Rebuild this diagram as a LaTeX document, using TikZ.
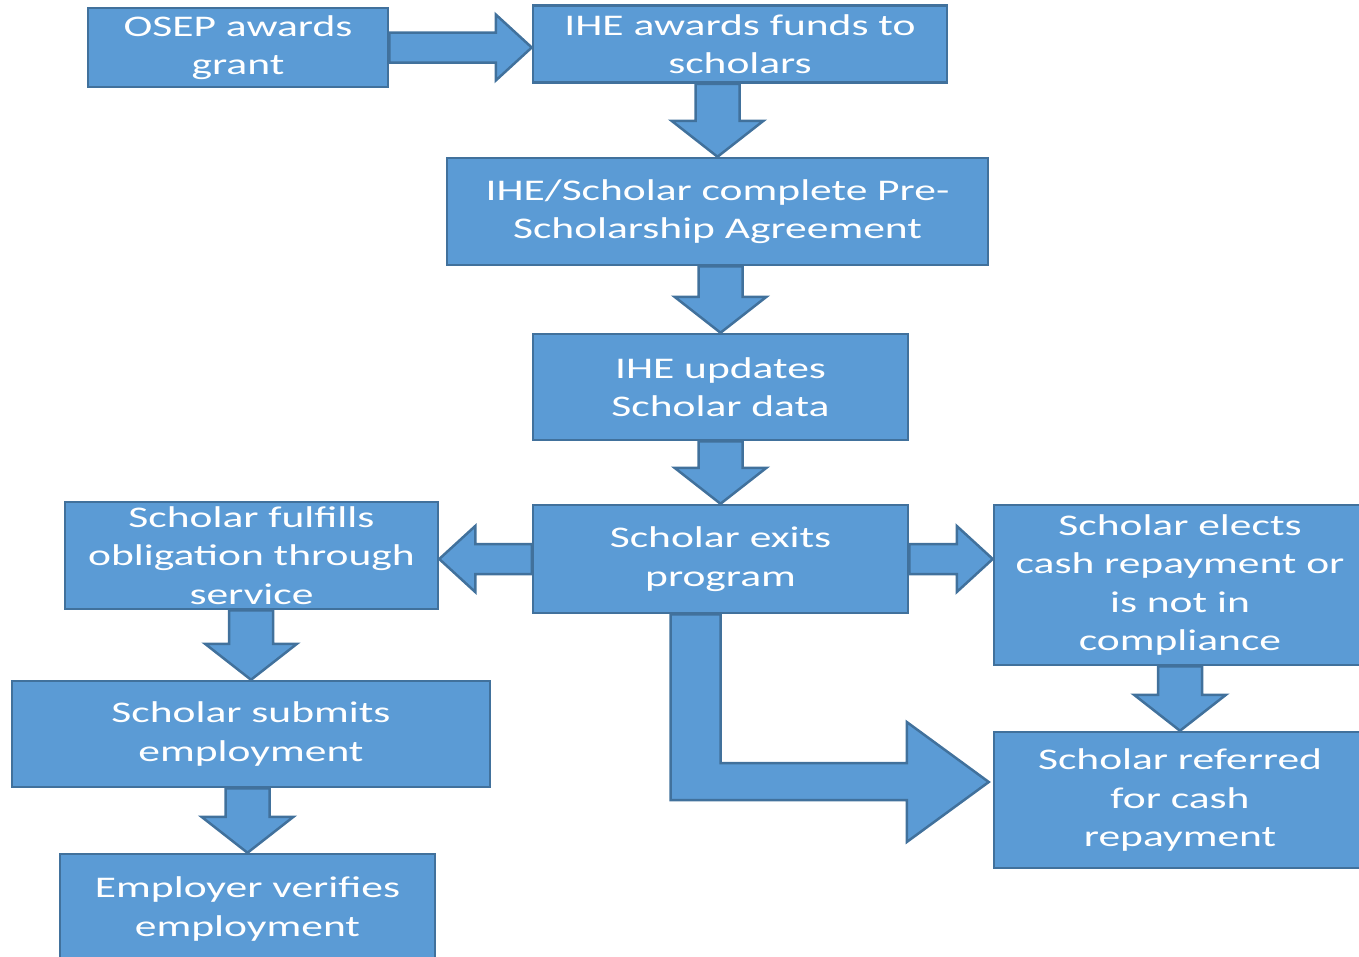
\documentclass[tikz,border=0pt]{standalone}
\usepackage{fontspec}
\setmainfont{Carlito}[FakeStretch=1.45]
\usetikzlibrary{positioning, calc}

\definecolor{boxblue}{HTML}{5B9BD5}
\definecolor{edgeblue}{HTML}{41719C}

% block arrows between boxes
\newcommand{\blockdown}[2]{%
  \draw[blockarrow] ($(#2.north |- #1.south)+(-22pt,0)$) -- ($(#2.north)+(-22pt,36pt)$)
    -- ($(#2.north)+(-46pt,36pt)$) -- (#2.north) -- ($(#2.north)+(46pt,36pt)$)
    -- ($(#2.north)+(22pt,36pt)$) -- ($(#2.north |- #1.south)+(22pt,0)$) -- cycle;}
\newcommand{\blockright}[2]{%
  \draw[blockarrow] ($(#1.east)+(0,15pt)$) -- ($(#1.east -| #2.west)+(-36pt,15pt)$)
    -- ($(#1.east -| #2.west)+(-36pt,33pt)$) -- (#1.east -| #2.west)
    -- ($(#1.east -| #2.west)+(-36pt,-33pt)$) -- ($(#1.east -| #2.west)+(-36pt,-15pt)$)
    -- ($(#1.east)+(0,-15pt)$) -- cycle;}
\newcommand{\blockleft}[2]{%
  \draw[blockarrow] ($(#1.west)+(0,15pt)$) -- ($(#1.west -| #2.east)+(36pt,15pt)$)
    -- ($(#1.west -| #2.east)+(36pt,33pt)$) -- (#1.west -| #2.east)
    -- ($(#1.west -| #2.east)+(36pt,-33pt)$) -- ($(#1.west -| #2.east)+(36pt,-15pt)$)
    -- ($(#1.west)+(0,-15pt)$) -- cycle;}

\begin{document}
\begin{tikzpicture}[
		x=1pt, y=-1pt,
		box/.style={draw=edgeblue, fill=boxblue, line width=2.5pt, text=white,
			align=center, inner sep=0pt, font=\fontsize{30}{38.5}\selectfont},
		blockarrow/.style={draw=edgeblue, fill=boxblue, line width=2.5pt, line join=miter}
		]
		\useasboundingbox (0,0) rectangle (1359,956);
		\node[box, minimum width=300, minimum height=79] (osep) at (238,47.5) {OSEP awards\\grant};
		\node[box, minimum width=414, minimum height=77] (funds) at (740,44) {IHE awards funds to\\scholars};
		\node[box, minimum width=541, minimum height=107] (agree) at (717.5,211.5) {IHE/Scholar complete Pre-\\Scholarship Agreement};
		\node[box, minimum width=375, minimum height=106] (update) at (720.5,387) {IHE updates\\Scholar data};
		\node[box, minimum width=375, minimum height=108] (exits) at (720.5,559) {Scholar exits\\program};
		\node[box, minimum width=373, minimum height=107] (service) at (251.5,555.5) {Scholar fulfills\\obligation through\\service};
		\node[box, minimum width=372, minimum height=160] (cash) at (1180,585) {Scholar elects\\cash repayment or\\is not in\\compliance};
		\node[box, minimum width=478, minimum height=106] (submit) at (251,734) {Scholar submits\\employment};
		\node[box, minimum width=375, minimum height=110] (verify) at (247.5,909) {Employer verifies\\employment};
		\node[box, minimum width=372, minimum height=136] (referred) at (1180,800) {Scholar referred\\for cash\\repayment};

		\blockright{osep}{funds}
		\blockdown{funds}{agree}
		\blockdown{agree}{update}
		\blockdown{update}{exits}
		\blockleft{exits}{service}
		\blockright{exits}{cash}
		\blockdown{service}{submit}
		\blockdown{submit}{verify}
		\blockdown{cash}{referred}

		% bent arrow down and round to the referral box
		\coordinate (tip) at ($(referred.west)+(-4pt,18pt)$);
		\draw[blockarrow] ($(exits.south)+(-50pt,0)$) -- ($(tip -| exits.south)+(-50pt,-18pt)$)
			-- ($(tip)+(-82pt,-18pt)$) -- ($(tip)+(-82pt,-60pt)$) -- (tip)
			-- ($(tip)+(-82pt,60pt)$) -- ($(tip)+(-82pt,19pt)$)
			-- ($(tip -| exits.south)+(0,19pt)$) -- (exits.south) -- cycle;
	\end{tikzpicture}
\end{document}
